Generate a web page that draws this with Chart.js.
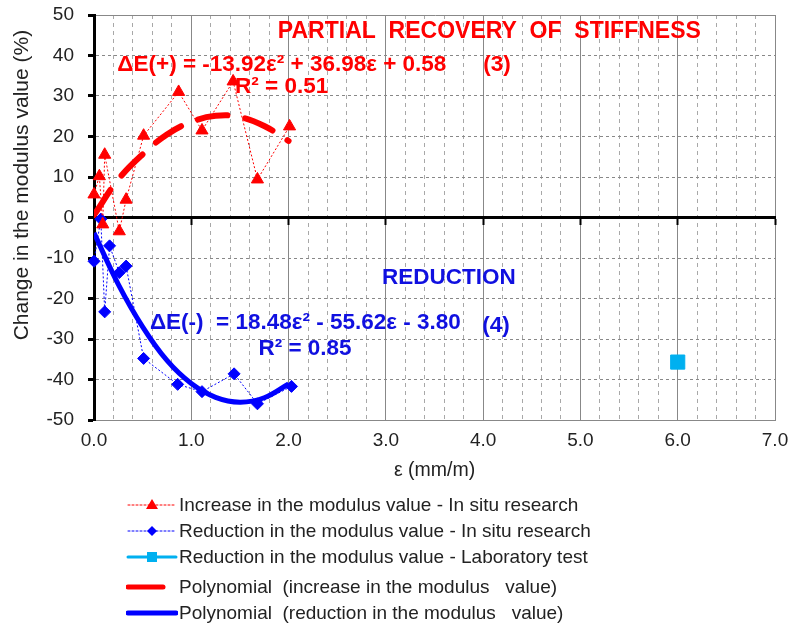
<!DOCTYPE html>
<html lang="en">
<head>
<meta charset="UTF-8">
<title>Change in the modulus value</title>
<script src="https://cdn.jsdelivr.net/npm/chart.js"></script>
<style>
  html, body { margin: 0; padding: 0; background: #fff; }
  #wrap { position: relative; width: 793px; height: 626px; }
  #legend {
    position: absolute; left: 126px; top: 492px;
    font-family: "Liberation Sans", Arial, sans-serif; font-size: 19px; color: #222;
  }
  .item { display: flex; align-items: center; height: 26px; white-space: pre; }
  .item svg { width: 52px; height: 18px; margin-right: 1px; }
  .item.gap { margin-top: 4px; }
</style>
</head>
<body>
<div id="wrap">
  <canvas id="chart" width="793" height="626"></canvas>
  <div id="legend"></div>
</div>
<script>
// strain (mm/m) and change of modulus (%)
const incX = [0.00, 0.055, 0.09, 0.11, 0.26, 0.33, 0.51, 0.87, 1.11, 1.43, 1.68, 2.01];
const incY = [5.7, 10.2, -1.7, 15.5, -3.4, 4.4, 20.2, 31.0, 21.5, 33.6, 9.4, 22.5];
const redX = [0.00, 0.07, 0.11, 0.16, 0.26, 0.33, 0.51, 0.86, 1.11, 1.44, 1.68, 2.03];
const redY = [-10.8, -0.4, -23.3, -7.0, -13.6, -12.0, -34.8, -41.2, -43.0, -38.6, -46.0, -41.7];
const labX = [6.0];
const labY = [-35.7];
// trend curves
const trendX = [0, 0.25, 0.5, 0.75, 1.0, 1.25, 1.5, 1.75, 2.0];
const trendIncY = [0.6, 9.4, 15.6, 20.5, 23.6, 25.1, 24.8, 22.6, 18.9];
const trendRedY = [-3.8, -16.5, -27.0, -35.3, -41.0, -44.4, -45.6, -44.5, -41.1];

const labels = [
  'Increase in the modulus value - In situ research',
  'Reduction in the modulus value - In situ research',
  'Reduction in the modulus value - Laboratory test',
  'Polynomial  (increase in the modulus   value)',
  'Polynomial  (reduction in the modulus   value)'
];

const RED = '#ff0000', BLUE = '#0000ff', CYAN = '#00b0f0';
const FONT = '"Liberation Sans", Arial, sans-serif';

function pts(xs, ys) { return xs.map((x, i) => ({ x: x, y: ys[i] })); }
function whole(v) { return Math.abs(v - Math.round(v)) < 1e-6; }
function noPad(s) { s.paddingTop = 0; s.paddingBottom = 0; s.paddingLeft = 0; s.paddingRight = 0; }

// text notes, anchored in data units
const notes = [
  { t: 'PARTIAL  RECOVERY  OF  STIFFNESS', x: 1.89, y: 45.8, c: RED, s: 23 },
  { t: 'ΔE(+) = -13.92ε² + 36.98ε + 0.58', x: 0.24, y: 37.7, c: RED, s: 22.5 },
  { t: '(3)', x: 4.0, y: 37.7, c: RED, s: 22.5 },
  { t: 'R² = 0.51', x: 1.45, y: 32.3, c: RED, s: 22.5 },
  { t: 'REDUCTION', x: 2.96, y: -14.8, c: '#1010e0', s: 22.5 },
  { t: 'ΔE(-)  = 18.48ε² - 55.62ε - 3.80', x: 0.575, y: -26.0, c: '#1010e0', s: 22.5 },
  { t: '(4)', x: 3.99, y: -26.8, c: '#1010e0', s: 22.5 },
  { t: 'R² = 0.85', x: 1.69, y: -32.5, c: '#1010e0', s: 22.5 }
];

const notesPlugin = {
  id: 'notes',
  afterDraw(chart) {
    const ctx = chart.ctx, sx = chart.scales.x, sy = chart.scales.y;
    ctx.save();
    ctx.textBaseline = 'middle';
    ctx.textAlign = 'left';
    notes.forEach(n => {
      ctx.font = 'bold ' + n.s + 'px ' + FONT;
      ctx.fillStyle = n.c;
      ctx.fillText(n.t, sx.getPixelForValue(n.x), sy.getPixelForValue(n.y));
    });
    // y axis title, sits a bit above the middle like the original
    ctx.translate(22, sy.getPixelForValue(8));
    ctx.rotate(-Math.PI / 2);
    ctx.textAlign = 'center';
    ctx.fillStyle = '#222';
    ctx.font = '21px ' + FONT;
    ctx.fillText('Change in the modulus value (%)', 0, 0);
    ctx.restore();
  }
};

const chart = new Chart(document.getElementById('chart'), {
  type: 'scatter',
  data: {
    datasets: [
      {
        label: labels[0], data: pts(incX, incY), showLine: true, clip: false,
        borderColor: RED, backgroundColor: RED, borderWidth: 1, borderDash: [2, 2],
        pointStyle: 'triangle', pointRadius: 7, order: 1
      },
      {
        label: labels[1], data: pts(redX, redY), showLine: true, clip: false,
        borderColor: BLUE, backgroundColor: BLUE, borderWidth: 1, borderDash: [2, 2],
        pointStyle: 'rectRot', pointRadius: 6, order: 1
      },
      {
        label: labels[2], data: pts(labX, labY), showLine: false, clip: false,
        borderColor: CYAN, backgroundColor: CYAN, borderWidth: 1,
        pointStyle: 'rect', pointRadius: 10, order: 1
      },
      {
        label: labels[3], data: pts(trendX, trendIncY), showLine: true,
        borderColor: RED, borderWidth: 6, borderDash: [30, 18], borderCapStyle: 'round',
        tension: 0.4, pointRadius: 0, order: 2
      },
      {
        label: labels[4], data: pts(trendX, trendRedY), showLine: true,
        borderColor: BLUE, borderWidth: 5, tension: 0.4, pointRadius: 0, order: 2
      }
    ]
  },
  options: {
    responsive: false,
    animation: false,
    layout: { padding: { left: 34, right: 18, top: 15, bottom: 140 } },
    plugins: { legend: { display: false }, tooltip: { enabled: false } },
    scales: {
      x: {
        type: 'linear', position: 'bottom', min: 0, max: 7,
        ticks: {
          stepSize: 0.2, autoSkip: false, maxRotation: 0, padding: 9,
          color: '#222', font: { family: FONT, size: 19 },
          callback: v => whole(v) ? v.toFixed(1) : ''
        },
        grid: { color: c => (c.tick && !whole(c.tick.value)) ? '#a8a8a8' : '#888', lineWidth: 1, drawTicks: false },
        border: { display: true, color: '#888', width: 1, dash: c => (c.tick && !whole(c.tick.value)) ? [4, 4] : [] },
        title: { display: true, text: 'ε (mm/m)', color: '#222', font: { family: FONT, size: 19.5 }, padding: { top: 6, bottom: 4 } },
        afterFit: s => { s.height = 66; noPad(s); }
      },
      y: {
        min: -50, max: 50,
        ticks: { stepSize: 10, padding: 14, color: '#222', font: { family: FONT, size: 19 } },
        grid: { color: '#888', lineWidth: 1, drawTicks: true, tickLength: 6, tickColor: '#000', tickWidth: 3 },
        border: { display: true, color: '#000', width: 3, dash: c => (c.tick && Math.abs(c.tick.value) < 50) ? [3, 3] : [] },
        afterFit: s => { s.width = 60; noPad(s); }
      },
      // zero line with its tick marks
      x0: {
        type: 'linear', axis: 'x', position: { y: 0 }, min: 0, max: 7,
        ticks: { display: false, stepSize: 1 },
        grid: { drawOnChartArea: false, drawTicks: true, tickLength: 6, tickColor: '#000', tickWidth: 2 },
        border: { display: true, color: '#000', width: 3 },
        afterFit: s => { noPad(s); }
      }
    }
  },
  plugins: [notesPlugin]
});

// legend with a line + marker sample for each series
function sample(ds) {
  const dash = ds.borderDash && ds.borderDash.length ? (ds.borderWidth > 2 ? '' : '2,2') : '';
  const w = ds.showLine === false ? 3 : Math.min(ds.borderWidth, 5);
  const x2 = ds.pointRadius ? 50 : (ds.borderDash && ds.borderDash.length ? 37 : 50);
  let s = '<svg viewBox="0 0 52 18"><line x1="2" y1="9" x2="' + x2 + '" y2="9" stroke="' + ds.borderColor +
    '" stroke-width="' + w + '" stroke-linecap="round"' + (dash ? ' stroke-dasharray="' + dash + '"' : '') + '/>';
  if (ds.pointStyle === 'triangle') s += '<polygon points="26,3 32,13 20,13" fill="' + ds.backgroundColor + '"/>';
  if (ds.pointStyle === 'rectRot') s += '<polygon points="26,4 31,9 26,14 21,9" fill="' + ds.backgroundColor + '"/>';
  if (ds.pointStyle === 'rect') s += '<rect x="21" y="4" width="10" height="10" fill="' + ds.backgroundColor + '"/>';
  return s + '</svg>';
}
document.getElementById('legend').innerHTML = chart.data.datasets.map((ds, i) =>
  '<div class="item' + (i === 3 ? ' gap' : '') + '">' + sample(ds) + '<span>' + ds.label + '</span></div>'
).join('');
</script>
</body>
</html>
